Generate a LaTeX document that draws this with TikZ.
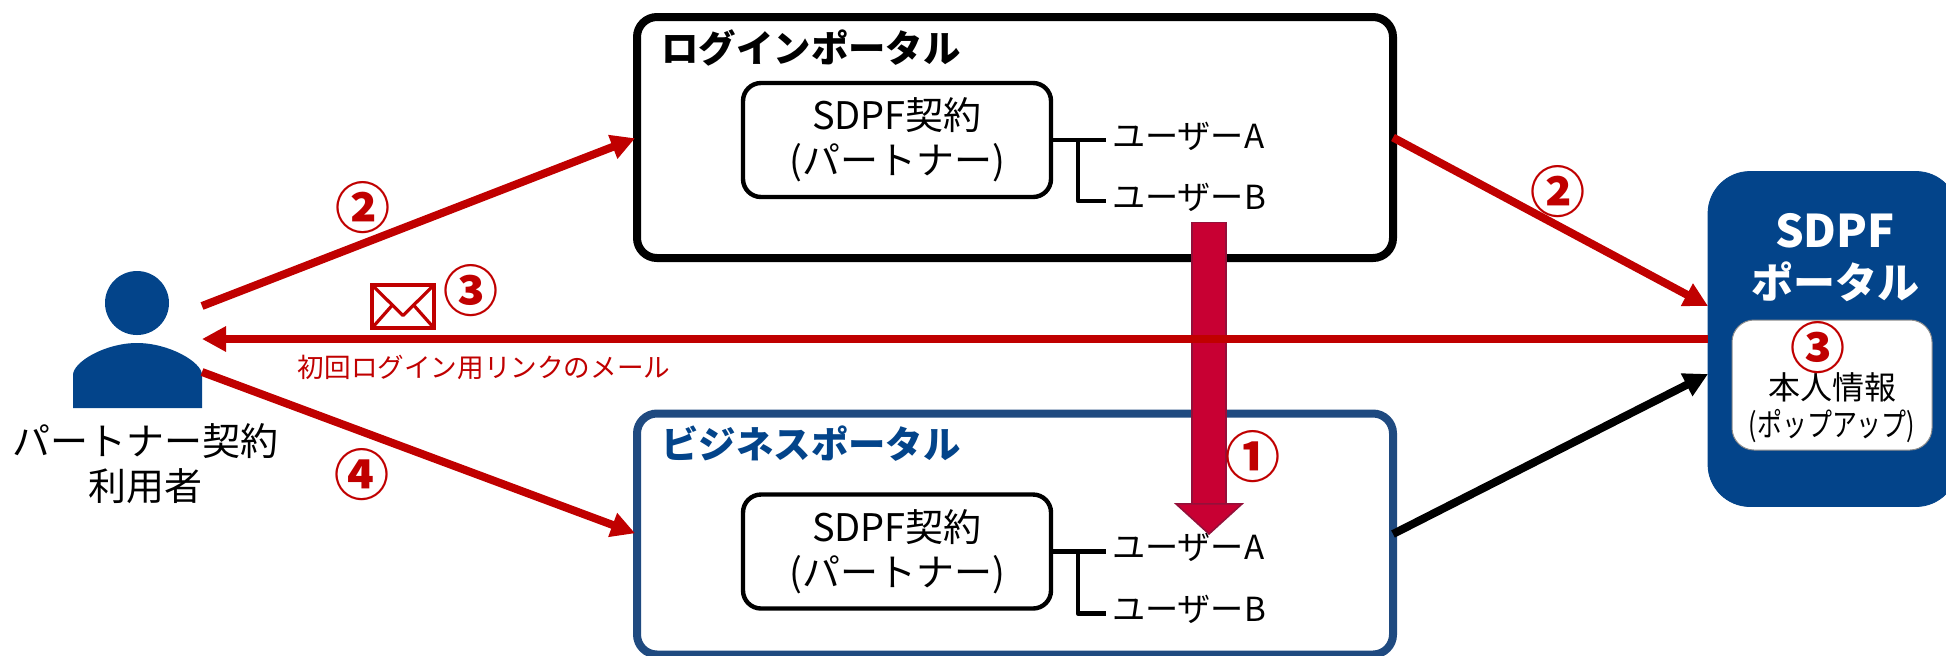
\documentclass[tikz,border=0pt]{standalone}
\usepackage{fontspec}
\setmainfont{Noto Sans CJK JP}
\usetikzlibrary{positioning}
\usetikzlibrary {arrows.meta}
\definecolor{sdpfnavy}{HTML}{03448A}
\definecolor{bizblue}{HTML}{1F4A80}
\definecolor{mailred}{HTML}{C00000}
\definecolor{movecrimson}{HTML}{C80033}
\definecolor{moveedge}{HTML}{94103A}
\tikzset{portalbox/.style={rectangle,draw=black,fill=white,rounded corners=10pt,
line width=4pt,outer sep=0pt,minimum width=378pt,minimum height=120.5pt}}
\tikzset{contractbox/.style={rectangle,draw=black,fill=white,rounded corners=9pt,
line width=2.2pt,outer sep=0pt,align=center,minimum width=154pt,minimum height=57pt,
font=\fontsize{19pt}{22.5pt}\selectfont}}
\tikzset{portaltitle/.style={anchor=west,inner sep=0pt,font=\fontsize{18.7pt}{22pt}\selectfont\bfseries}}
\tikzset{userlabel/.style={inner xsep=3pt,inner ysep=0pt,outer sep=0pt,text height=13.3pt,text depth=5.3pt,
font=\fontsize{16.6pt}{20pt}\selectfont}}
\tikzset{stepmark/.style={inner sep=0pt,text=mailred,font=\fontsize{27.5pt}{29pt}\selectfont\bfseries}}
\tikzset{redflow/.style={draw=mailred,line width=4pt,-{Triangle[length=12pt,width=12pt]}}}
\tikzset{branch/.style={draw=black,line width=2.2pt,line join=round}}

\begin{document}
\begin{tikzpicture}[x=0.5pt,y=-0.5pt]
        \useasboundingbox (0,0) rectangle (1946,655);

        \node[portalbox] (login) at (1015,137.5) { };
        \node[portalbox,draw=bizblue] (business) at (1015,534) { };
        \node[rectangle,fill=sdpfnavy,draw=sdpfnavy,rounded corners=21pt,outer sep=0pt,
            minimum width=125pt,minimum height=167.5pt] (sdpf) at (1833,339) { };
        \node[rectangle,fill=white,draw=black!45,line width=0.5pt,rounded corners=11pt,
            minimum width=100pt,minimum height=65pt] (popup) at (1832,385) { };

        \node[portaltitle] (loginTitle) at (661,48) {ログインポータル};
        \node[portaltitle,text=sdpfnavy] (businessTitle) at (661,444) {ビジネスポータル};

        \node[contractbox] (loginContract) at (897,140) {SDPF契約\\(パートナー)};
        \node[contractbox] (businessContract) at (897,551.5) {SDPF契約\\(パートナー)};

        \node[userlabel,anchor=west] (loginUserA) [right=27.5pt of loginContract] {ユーザーA};
        \node[userlabel,anchor=west] (loginUserB) at ([yshift=-30.5pt]loginUserA.west) {ユーザーB};
        \node[userlabel,anchor=west] (businessUserA) [right=27.5pt of businessContract] {ユーザーA};
        \node[userlabel,anchor=west] (businessUserB) at ([yshift=-31pt]businessUserA.west) {ユーザーB};

        \draw[branch] (loginContract.east) -- (loginUserA.west);
        \draw[branch] (loginContract.east) ++(13.5pt,0) |- (loginUserB.west);
        \draw[branch] (businessContract.east) -- (businessUserA.west);
        \draw[branch] (businessContract.east) ++(13.5pt,0) |- (businessUserB.west);

        % person
        \fill[sdpfnavy] (137,303) circle (16pt);
        \fill[sdpfnavy] (73,408) -- (73,375) .. controls (73,362) and (105,343) .. (137,343)
            .. controls (169,343) and (202,362) .. (202,375) -- (202,408) -- cycle;
        \node[align=center,inner sep=0pt,font=\fontsize{19pt}{22.5pt}\selectfont] (partnerUser) at (145,464) {パートナー契約\\利用者};
        \coordinate (userUp) at (202,306);
        \coordinate (userMid) at (202,339);
        \coordinate (userDown) at (202,372);

        % move arrow
        \coordinate (moveTop) at (1209,222);
        \coordinate (moveTip) at (1209,535);
        \coordinate (moveNeck) at (1209,503);
        \draw[draw=moveedge,line width=18pt,-{Triangle[length=16pt,width=35pt,fill=movecrimson,line width=0.8pt]}] (moveTop) -- (moveTip);
        \draw[draw=movecrimson,line width=16pt] ([yshift=-0.7pt]moveTop) -- (moveNeck);

        \draw[redflow,shorten >=1pt] (userUp) -- (login.west);
        \draw[redflow] (login.east) -- ([yshift=16.5pt]sdpf.west);
        \draw[redflow] (sdpf.west) -- (userMid);
        \draw[redflow,shorten >=1pt] (userDown) -- (business.west);
        \draw[line width=4pt,-{Triangle[length=12pt,width=12pt]}] (business.east) -- ([yshift=-17.5pt]sdpf.west);

        % envelope
        \node[draw=mailred,line width=1.8pt,outer sep=0pt,inner sep=0pt,minimum width=31pt,minimum height=21.5pt] (mail) at (403,306.5) { };
        \draw[mailred,line width=1.6pt,line join=round] (mail.north west) -- ([yshift=-4.5pt]mail.center) -- (mail.north east);
        \draw[mailred,line width=1.6pt] (mail.south west) -- ([xshift=-5.5pt,yshift=0.5pt]mail.center);
        \draw[mailred,line width=1.6pt] (mail.south east) -- ([xshift=5.5pt,yshift=0.5pt]mail.center);

        \node[inner sep=0pt,text=mailred,font=\fontsize{13.3pt}{16pt}\selectfont] (mailText) at (484,367) {初回ログイン用リンクのメール};

        \node[align=center,inner sep=0pt,text=white,font=\fontsize{21pt}{25.5pt}\selectfont\bfseries] (sdpfTitle) at (1835,258) {{\fontsize{22.5pt}{25.5pt}\selectfont SDPF}\\ポータル};
        \node[align=center,inner sep=0pt,font=\fontsize{16pt}{18.5pt}\selectfont] (popupText) at (1832,408) {本人情報\\{\addfontfeature{FakeStretch=0.78}(ポップアップ)}};

        \node[stepmark] (stepOne) at (1253,457) {①};
        \node[stepmark] (stepTwoL) at (363,208) {②};
        \node[stepmark] (stepTwoR) at (1558,192) {②};
        \node[stepmark] (stepThreeL) at (471,291) {③};
        \node[stepmark] (stepThreeR) at (1818,348) {③};
        \node[stepmark] (stepFour) at (362,475) {④};

\end{tikzpicture}
\end{document}
